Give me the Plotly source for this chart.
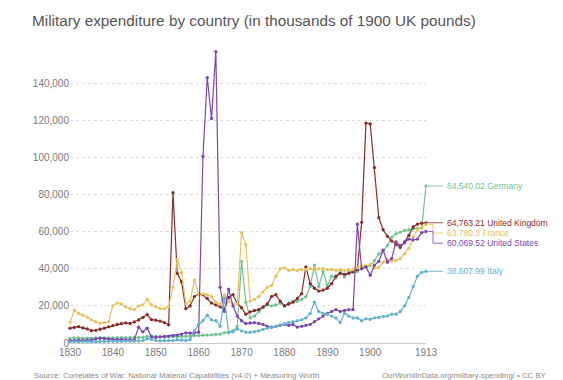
import plotly.graph_objects as go

years = list(range(1830, 1914))

uk = [8000, 8400, 8800, 8100, 7600, 6600, 6800, 7400, 8000, 8700,
      9400, 10000, 10400, 10800, 10500, 11300, 12400, 13800, 15300, 12600,
      12300, 11800, 11000, 9800, 81000, 37500, 33000, 18500, 20000, 25000,
      26500, 26000, 24000, 21500, 20500, 19500, 18000, 24500, 26000, 21500,
      19000, 15500, 16800, 17500, 18000, 19500, 21000, 25000, 26000, 22500,
      20000, 21000, 22000, 24000, 26500, 41000, 32000, 29500, 28000, 28500,
      29500, 32000, 36000, 37500, 37000, 37500, 38500, 39500, 65000, 118500,
      118000, 94500, 67500, 61000, 57500, 55000, 53000, 51500, 54500, 58000,
      62500, 64000, 64500, 64763.21]

france = [11000, 17500, 16000, 15000, 14000, 12500, 11500, 10500, 11000, 11500,
          20000, 21500, 21000, 19500, 18500, 18000, 20000, 20500, 23500, 20500,
          19500, 18500, 18500, 19500, 30000, 45000, 38000, 21000, 22500, 34000,
          26500, 26500, 26000, 25000, 22000, 21000, 26000, 22500, 21000, 21000,
          59500, 53000, 22500, 23500, 25000, 27500, 30000, 31000, 36000, 40000,
          40500, 39000, 39500, 39000, 39500, 39500, 40000, 39500, 40000, 40000,
          39500, 39500, 39000, 39500, 39000, 39500, 39500, 40500, 41500, 41500,
          42500, 40500, 40500, 43500, 45000, 44000, 44500, 45500, 48000, 51000,
          57000, 61000, 62500, 63780.3]

germany = [2500, 2800, 2700, 2600, 2600, 2600, 2700, 2700, 2700, 2800,
           2800, 2900, 2900, 2900, 3000, 3000, 3000, 3100, 3500, 3800,
           3600, 3300, 3200, 3300, 3400, 3400, 3500, 3500, 3600, 4000,
           4000, 4200, 4300, 4400, 4600, 4800, 5500, 5800, 6500, 9000,
           44000, 22000, 13500, 14500, 17000, 19000, 20500, 20000, 20500, 21500,
           20000, 21500, 22500, 22500, 23500, 25000, 30500, 42000, 30500, 38500,
           31000, 36000, 35000, 39000, 35500, 38500, 38000, 38500, 40000, 41000,
           41700, 44400, 48000, 49800, 52500, 57000, 58800, 59700, 60600, 61000,
           61500, 61800, 62000, 84540.02]

us = [1300, 1300, 1500, 1600, 1500, 1500, 2200, 2600, 2400, 2000,
      1900, 1800, 2000, 1700, 1800, 1800, 8500, 6000, 8000, 3200,
      3000, 3300, 3500, 3700, 4000, 4200, 4800, 5500, 5300, 5500,
      5800, 100500, 143000, 121000, 157000, 30000, 17000, 29000, 20000, 14500,
      12000, 10500, 10800, 11000, 10500, 10000, 9000, 8500, 9000, 9500,
      10000, 9500, 10000, 8500, 9000, 9500, 10000, 11500, 13000, 14500,
      16000, 17000, 18000, 17000, 17500, 18000, 18000, 64000, 40000, 41000,
      36500, 42000, 44000, 50000, 43500, 45500, 54500, 52500, 54000, 56000,
      55500, 56000, 59500, 60069.52]

italy = [600, 700, 700, 800, 800, 700, 700, 800, 800, 800,
         900, 900, 900, 1000, 1000, 1000, 1100, 1300, 2300, 2000,
         1300, 1100, 1200, 1300, 1300, 1800, 1600, 1400, 1800, 6500,
         10000, 12000, 15000, 12500, 12000, 9000, 24000, 5500, 6000, 7500,
         6500, 5800, 5800, 6000, 6500, 7300, 8000, 8500, 9000, 9800,
         10300, 11000, 11500, 12000, 12500, 13500, 16000, 22000, 17000, 16000,
         15500, 14500, 13500, 11000, 16000, 14500, 13500, 13500, 12000, 13000,
         12800, 13500, 13800, 14200, 14600, 15500, 15500, 17000, 20000, 24500,
         30500, 36000, 38000, 38607.99]

series_names = ["Germany", "United Kingdom", "France", "United States", "Italy"]
series_values = [germany, uk, france, us, italy]
series_colors = ["#72c292", "#8a2c2c", "#e6c35c", "#7c45b2", "#62b2cb"]
end_labels = ["84,540.02", "64,763.21", "63,780.3", "60,069.52", "38,607.99"]

y_ticks = [0, 20000, 40000, 60000, 80000, 100000, 120000, 140000]
x_ticks = [1830, 1840, 1850, 1860, 1870, 1880, 1890, 1900, 1913]

FONT = "Liberation Sans"
Y_MAX = 160000
W, H = 563, 380
ML, MR, MT, MB = 70, 137, 46, 37
PW = W - ML - MR
PH = H - MT - MB

fig = go.Figure()
for name, vals, col in zip(series_names, series_values, series_colors):
    fig.add_trace(go.Scatter(
        x=years, y=vals, name=name, mode="lines+markers",
        line=dict(color=col, width=1.2),
        marker=dict(color=col, size=3.3),
        cliponaxis=False, showlegend=False, hoverinfo="skip"))

# end labels with simple collision avoidance
GAP = 5500
order = sorted(range(len(series_names)), key=lambda i: -series_values[i][-1])
label_y = {}
prev = None
for i in order:
    v = series_values[i][-1]
    ly = v if prev is None else min(v, prev - GAP)
    label_y[i] = ly
    prev = ly

annotations = []
shapes = []
x_start = 1 + 2 / PW
x_bend = 1 + 7 / PW
x_end = 1 + 17 / PW
x_text = 1 + 19 / PW
for i in range(len(series_names)):
    v = series_values[i][-1]
    yv = v / Y_MAX
    yl = label_y[i] / Y_MAX
    shapes.append(dict(
        type="path", xref="paper", yref="paper",
        path=f"M {x_start},{yv} L {x_bend},{yv} L {x_bend},{yl} L {x_end},{yl}",
        line=dict(color=series_colors[i], width=1), opacity=0.8))
    annotations.append(dict(
        xref="paper", yref="paper", x=x_text, y=yl, xanchor="left", yanchor="middle",
        text=f"{end_labels[i]} {series_names[i]}", showarrow=False,
        font=dict(family=FONT, size=8.5, color=series_colors[i])))

annotations.append(dict(
    xref="paper", yref="paper", x=(32 - ML) / PW, y=(H - MB - 375) / PH,
    xanchor="left", yanchor="middle", showarrow=False,
    text="Source: Correlates of War: National Material Capabilities (v4.0) + Measuring Worth",
    font=dict(family=FONT, size=7.8, color="#8a8a8a")))
annotations.append(dict(
    xref="paper", yref="paper", x=(549 - ML) / PW, y=(H - MB - 375) / PH,
    xanchor="right", yanchor="middle", showarrow=False,
    text="OurWorldInData.org/military-spending/ • CC BY",
    font=dict(family=FONT, size=7.8, color="#8a8a8a")))

fig.update_layout(
    width=W, height=H,
    margin=dict(l=ML, r=MR, t=MT, b=MB),
    paper_bgcolor="white", plot_bgcolor="white",
    title=dict(text="Military expenditure by country (in thousands of 1900 UK pounds)",
               xref="container", yref="container", x=32 / W, xanchor="left",
               y=1 - 21 / H, yanchor="middle",
               font=dict(family=FONT, size=15.3, color="#555555")),
    xaxis=dict(range=[1830, 1913], tickvals=x_ticks, ticktext=[str(t) for t in x_ticks],
               showgrid=False, zeroline=False, showline=True, linecolor="#cccccc",
               linewidth=1, ticks="", tickfont=dict(family=FONT, size=10, color="#7a7a7a")),
    yaxis=dict(range=[0, Y_MAX], tickvals=y_ticks, tickformat=",",
               showgrid=True, gridcolor="#dddddd", griddash="dot", gridwidth=1,
               zeroline=False, showline=False, ticks="",
               tickfont=dict(family=FONT, size=10, color="#7a7a7a")),
    annotations=annotations, shapes=shapes,
)

fig.write_html("out.html", config={"displayModeBar": False},
               post_script="document.body.style.margin='0';")
